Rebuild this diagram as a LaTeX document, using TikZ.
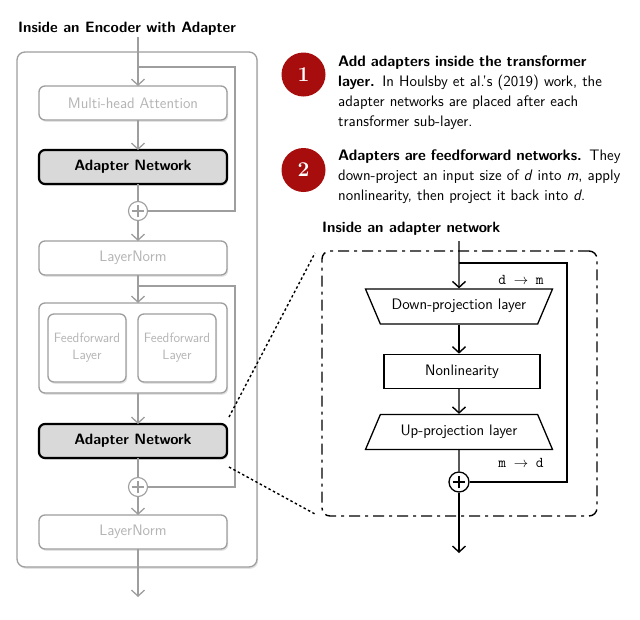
\documentclass[tikz,border=0pt]{standalone}
\usepackage{fontspec}
\usepackage{tikz}
\usetikzlibrary{positioning,shapes.geometric,shadows,arrows.meta}
\usepackage{xcolor}

\definecolor{frame}{HTML}{9E9E9E}
\definecolor{faded}{HTML}{B4B4B4}
\definecolor{adfill}{HTML}{D9D9D9}
\definecolor{badge}{HTML}{A80D0D}

\begin{document}
\begin{tikzpicture}[x=1pt,y=-1pt,
  font=\sffamily\fontsize{15.2}{20}\selectfont,
  >={Straight Barb[length=6pt,width=13pt]},
  soft/.style = {drop shadow={opacity=0.22, shadow xshift=1.2pt, shadow yshift=-1.8pt}},
  layer/.style = {draw=frame, line width=1.3pt, rounded corners=6pt, fill=white, soft,
    text=faded, minimum width=188, minimum height=34, inner sep=0pt, outer sep=0pt},
  adapter/.style = {draw=black, line width=2.2pt, rounded corners=6pt, fill=adfill, soft,
    font=\sffamily\bfseries\fontsize{15}{20}\selectfont, minimum width=188, minimum height=34,
    outer sep=0pt},
  ffbox/.style = {layer, minimum width=78, minimum height=68, align=center,
    font=\sffamily\fontsize{13.5}{17}\selectfont},
  plus/.style 2 args = {circle, minimum size=#1, inner sep=0pt, fill=white, draw=#2,
    path picture={\draw[#2] ([xshift=-0.32*#1]path picture bounding box.center)
      -- ([xshift=0.32*#1]path picture bounding box.center);
      \draw[#2] ([yshift=-0.32*#1]path picture bounding box.center)
      -- ([yshift=0.32*#1]path picture bounding box.center);}},
  grey/.style = {draw=frame, line width=1.3pt},
  proj/.style = {trapezium, draw, line width=1.3pt, trapezium angle=67,
    trapezium stretches body, minimum width=187, text height=10pt, text depth=3.5pt,
    inner xsep=0pt, inner ysep=10.75pt},
  badgenode/.style = {circle, fill=badge, text=white, minimum size=44, inner sep=0pt,
    font=\rmfamily\bfseries\fontsize{21}{21}\selectfont},
  note/.style = {anchor=base west, text width=300, align=left, inner sep=0pt}]
\useasboundingbox (0,0) rectangle (640,619);

% encoder layer
\node[anchor=base west, inner sep=0pt, font=\sffamily\bfseries\fontsize{15}{20}\selectfont]
  (title) at (18,32) {Inside an Encoder with Adapter};
\node[draw=frame, line width=1.3pt, rounded corners=8pt, soft, fill=white,
  minimum width=240, minimum height=515] (enc) at (137,309.5) {};

\node[layer] (mha) at (133,103) {Multi-head Attention};
\node[adapter] (ad1) [below=30pt of mha] {Adapter Network};
\node[layer] (ln1) [below=57pt of ad1] {LayerNorm};
\node[layer, minimum height=90] (ff) [below=28pt of ln1] {};
\node[ffbox] (ffa) at ([xshift=-46pt]ff.center) {Feedforward\\Layer};
\node[ffbox] (ffb) at ([xshift=44pt]ff.center) {Feedforward\\Layer};
\node[adapter] (ad2) [below=31pt of ff] {Adapter Network};
\node[layer] (ln2) [below=57pt of ad2] {LayerNorm};

\node[plus={19}{frame}, line width=1.1pt] (p1) at (138,211) {};
\node[plus={19}{frame}, line width=1.1pt] (p2) at (138,487) {};

\coordinate (in) at (138,37);
\coordinate (s1) at (138,67);
\coordinate (r1) at (235,67);
\coordinate (s2) at (138,286);
\coordinate (r2) at (235,286);
\coordinate (out) at (138,597);

\draw[grey,->] (in) -- (mha.north -| in);
\draw[grey] (s1) -- (r1) |- (p1);
\draw[grey,->] (mha.south -| in) -- (ad1.north -| in);
\draw[grey] (ad1.south -| in) -- (p1);
\draw[grey,->] (p1) -- (ln1.north -| in);
\draw[grey,->] (ln1.south -| in) -- (ff.north -| in);
\draw[grey] (s2) -- (r2) |- (p2);
\draw[grey,->] (ff.south -| in) -- (ad2.north -| in);
\draw[grey] (ad2.south -| in) -- (p2);
\draw[grey,->] (p2) -- (ln2.north -| in);
\draw[grey,->] (ln2.south -| in) -- (out);

% notes
\node[badgenode] (b1) at (303.5,74.5) {1};
\node[note] (n1) at (338,66) {\textbf{Add adapters inside the transformer}\\
  \textbf{layer.} In Houlsby et al.'s (2019) work, the\\
  adapter networks are placed after each\\
  transformer sub-layer.};
\node[badgenode] (b2) at (303.5,170) {2};
\node[note] (n2) at (338,160) {\textbf{Adapters are feedforward networks.} They\\
  down-project an input size of \textit{d} into \textit{m}, apply\\
  nonlinearity, then project it back into \textit{d}.};

% adapter network
\node[anchor=base west, inner sep=0pt, font=\sffamily\bfseries\fontsize{15}{20}\selectfont]
  (title2) at (322,232) {Inside an adapter network};
\node[draw, line width=1.4pt, rounded corners=8pt,
  dash pattern=on 11pt off 5pt on 3pt off 5pt,
  minimum width=275, minimum height=265] (zoom) at (459.5,383.5) {};

\node[proj, shape border rotate=180] (dp) at (459,306.5) {Down-projection layer};
\node[draw, line width=1.3pt, minimum width=156, minimum height=34, inner sep=0pt]
  (nl) [below=29pt of dp.south, anchor=north, xshift=3pt] {Nonlinearity};
\node[proj] (up) at (459,432) {Up-projection layer};
\node[plus={20}{black}, line width=1.3pt] (p3) at (459,482) {};

\node[font=\ttfamily\fontsize{15}{20}\selectfont, inner sep=0pt] (dm) at (521,280)
  {d $\rightarrow$ m};
\node[font=\ttfamily\fontsize{15}{20}\selectfont, inner sep=0pt] (md) at (521,463)
  {m $\rightarrow$ d};

\coordinate (ain) at (459,241);
\coordinate (as) at (459,263);
\coordinate (ar) at (567,263);
\coordinate (aout) at (459,553);

\draw[line width=1.4pt,->] (ain) -- (dp.north);
\draw[line width=1.4pt] (as) -- (ar) |- (p3);
\draw[line width=1.4pt,->] (dp.south) -- (nl.north -| dp.south);
\draw[line width=1.4pt,->] (nl.south -| dp.south) -- (up.north);
\draw[line width=1.4pt] (up.south) -- (p3);
\draw[line width=1.4pt,->] (p3) -- (aout);

% zoom lines
\coordinate (z1) at (229,417);
\coordinate (z2) at (315,253);
\coordinate (z3) at (229,467);
\coordinate (z4) at (315,514);
\draw[line width=1.4pt, dash pattern=on 2.5pt off 2.5pt] (z1) -- (z2);
\draw[line width=1.4pt, dash pattern=on 2.5pt off 2.5pt] (z3) -- (z4);
\end{tikzpicture}
\end{document}
